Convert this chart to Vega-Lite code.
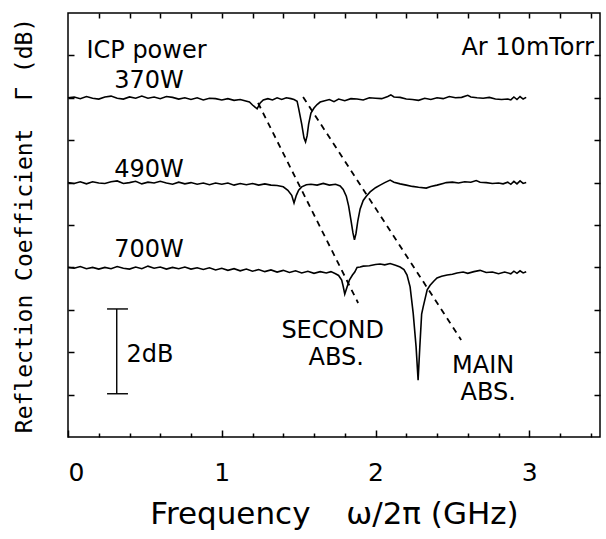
{
  "$schema": "https://vega.github.io/schema/vega-lite/v6.json",
  "autosize": "none",
  "width": 532,
  "height": 424,
  "padding": {"left": 68, "top": 13, "right": 6, "bottom": 102},
  "config": {
    "view": {"stroke": "black", "strokeWidth": 1.5},
    "axis": {"grid": false, "domain": false, "tickColor": "black", "tickWidth": 1.5, "labelColor": "black", "titleColor": "black", "labelFont": "DejaVu Sans", "titleFont": "DejaVu Sans", "titleFontWeight": "normal"},
    "text": {"font": "DejaVu Sans", "fontSize": 24, "color": "black", "baseline": "alphabetic"}
  },
  "resolve": {"axis": {"x": "independent", "y": "independent"}},
  "datasets": {
    "traces": [
      {"p":"370W","f":0.00,"g":-2.00},{"p":"370W","f":0.04,"g":-1.98},{"p":"370W","f":0.08,"g":-2.02},{"p":"370W","f":0.12,"g":-1.97},{"p":"370W","f":0.16,"g":-2.01},{"p":"370W","f":0.20,"g":-2.03},{"p":"370W","f":0.24,"g":-1.98},{"p":"370W","f":0.28,"g":-1.96},{"p":"370W","f":0.32,"g":-2.01},{"p":"370W","f":0.36,"g":-2.03},{"p":"370W","f":0.40,"g":-1.98},{"p":"370W","f":0.44,"g":-2.01},{"p":"370W","f":0.48,"g":-1.96},{"p":"370W","f":0.52,"g":-2.01},{"p":"370W","f":0.56,"g":-1.98},{"p":"370W","f":0.60,"g":-2.02},{"p":"370W","f":0.64,"g":-1.97},{"p":"370W","f":0.68,"g":-1.99},{"p":"370W","f":0.72,"g":-2.03},{"p":"370W","f":0.76,"g":-2.00},{"p":"370W","f":0.80,"g":-2.04},{"p":"370W","f":0.84,"g":-2.00},{"p":"370W","f":0.88,"g":-2.05},{"p":"370W","f":0.92,"g":-2.01},{"p":"370W","f":0.96,"g":-2.02},{"p":"370W","f":1.00,"g":-2.05},{"p":"370W","f":1.04,"g":-2.02},{"p":"370W","f":1.08,"g":-2.06},{"p":"370W","f":1.12,"g":-2.04},{"p":"370W","f":1.15,"g":-2.07},{"p":"370W","f":1.18,"g":-2.10},{"p":"370W","f":1.20,"g":-2.17},{"p":"370W","f":1.23,"g":-2.26},{"p":"370W","f":1.25,"g":-2.12},{"p":"370W","f":1.27,"g":-2.05},{"p":"370W","f":1.30,"g":-2.02},{"p":"370W","f":1.33,"g":-2.05},{"p":"370W","f":1.36,"g":-2.00},{"p":"370W","f":1.39,"g":-2.04},{"p":"370W","f":1.42,"g":-2.00},{"p":"370W","f":1.45,"g":-2.02},{"p":"370W","f":1.47,"g":-2.04},{"p":"370W","f":1.49,"g":-2.08},{"p":"370W","f":1.50,"g":-2.25},{"p":"370W","f":1.52,"g":-2.62},{"p":"370W","f":1.535,"g":-2.95},{"p":"370W","f":1.545,"g":-3.04},{"p":"370W","f":1.555,"g":-2.90},{"p":"370W","f":1.565,"g":-2.62},{"p":"370W","f":1.58,"g":-2.36},{"p":"370W","f":1.60,"g":-2.24},{"p":"370W","f":1.62,"g":-2.16},{"p":"370W","f":1.64,"g":-2.10},{"p":"370W","f":1.67,"g":-2.07},{"p":"370W","f":1.70,"g":-2.04},{"p":"370W","f":1.73,"g":-2.09},{"p":"370W","f":1.76,"g":-2.03},{"p":"370W","f":1.80,"g":-2.07},{"p":"370W","f":1.84,"g":-2.02},{"p":"370W","f":1.88,"g":-2.03},{"p":"370W","f":1.92,"g":-2.05},{"p":"370W","f":1.96,"g":-2.00},{"p":"370W","f":2.00,"g":-2.01},{"p":"370W","f":2.04,"g":-2.02},{"p":"370W","f":2.08,"g":-1.97},{"p":"370W","f":2.10,"g":-1.93},{"p":"370W","f":2.12,"g":-1.98},{"p":"370W","f":2.16,"g":-1.99},{"p":"370W","f":2.20,"g":-2.03},{"p":"370W","f":2.24,"g":-2.04},{"p":"370W","f":2.28,"g":-2.06},{"p":"370W","f":2.32,"g":-2.01},{"p":"370W","f":2.36,"g":-2.04},{"p":"370W","f":2.40,"g":-2.00},{"p":"370W","f":2.44,"g":-2.02},{"p":"370W","f":2.48,"g":-1.97},{"p":"370W","f":2.52,"g":-2.00},{"p":"370W","f":2.56,"g":-1.99},{"p":"370W","f":2.60,"g":-1.94},{"p":"370W","f":2.62,"g":-1.98},{"p":"370W","f":2.66,"g":-2.00},{"p":"370W","f":2.70,"g":-2.01},{"p":"370W","f":2.74,"g":-1.99},{"p":"370W","f":2.78,"g":-2.03},{"p":"370W","f":2.82,"g":-2.04},{"p":"370W","f":2.86,"g":-2.03},{"p":"370W","f":2.88,"g":-2.05},{"p":"370W","f":2.90,"g":-1.98},{"p":"370W","f":2.92,"g":-2.04},{"p":"370W","f":2.94,"g":-1.97},{"p":"370W","f":2.96,"g":-2.03},{"p":"370W","f":2.98,"g":-1.99},
      {"p":"490W","f":0.00,"g":-4.00},{"p":"490W","f":0.04,"g":-4.02},{"p":"490W","f":0.08,"g":-3.98},{"p":"490W","f":0.12,"g":-4.03},{"p":"490W","f":0.16,"g":-3.98},{"p":"490W","f":0.20,"g":-4.01},{"p":"490W","f":0.24,"g":-4.02},{"p":"490W","f":0.28,"g":-3.98},{"p":"490W","f":0.32,"g":-3.96},{"p":"490W","f":0.36,"g":-4.02},{"p":"490W","f":0.40,"g":-4.00},{"p":"490W","f":0.44,"g":-3.97},{"p":"490W","f":0.48,"g":-4.03},{"p":"490W","f":0.52,"g":-3.99},{"p":"490W","f":0.56,"g":-4.01},{"p":"490W","f":0.60,"g":-3.97},{"p":"490W","f":0.64,"g":-4.01},{"p":"490W","f":0.68,"g":-4.04},{"p":"490W","f":0.72,"g":-3.99},{"p":"490W","f":0.76,"g":-4.03},{"p":"490W","f":0.80,"g":-4.00},{"p":"490W","f":0.84,"g":-4.04},{"p":"490W","f":0.88,"g":-4.01},{"p":"490W","f":0.92,"g":-4.05},{"p":"490W","f":0.96,"g":-4.01},{"p":"490W","f":1.00,"g":-4.04},{"p":"490W","f":1.04,"g":-4.01},{"p":"490W","f":1.08,"g":-4.06},{"p":"490W","f":1.12,"g":-4.02},{"p":"490W","f":1.16,"g":-4.05},{"p":"490W","f":1.20,"g":-4.02},{"p":"490W","f":1.24,"g":-4.06},{"p":"490W","f":1.28,"g":-4.03},{"p":"490W","f":1.32,"g":-4.06},{"p":"490W","f":1.36,"g":-4.07},{"p":"490W","f":1.40,"g":-4.10},{"p":"490W","f":1.43,"g":-4.18},{"p":"490W","f":1.455,"g":-4.30},{"p":"490W","f":1.47,"g":-4.48},{"p":"490W","f":1.485,"g":-4.30},{"p":"490W","f":1.50,"g":-4.18},{"p":"490W","f":1.52,"g":-4.10},{"p":"490W","f":1.55,"g":-4.05},{"p":"490W","f":1.58,"g":-4.04},{"p":"490W","f":1.62,"g":-4.06},{"p":"490W","f":1.66,"g":-4.02},{"p":"490W","f":1.70,"g":-4.06},{"p":"490W","f":1.74,"g":-4.04},{"p":"490W","f":1.77,"g":-4.08},{"p":"490W","f":1.79,"g":-4.16},{"p":"490W","f":1.81,"g":-4.32},{"p":"490W","f":1.825,"g":-4.55},{"p":"490W","f":1.84,"g":-4.88},{"p":"490W","f":1.853,"g":-5.18},{"p":"490W","f":1.863,"g":-5.35},{"p":"490W","f":1.873,"g":-5.20},{"p":"490W","f":1.885,"g":-4.90},{"p":"490W","f":1.90,"g":-4.62},{"p":"490W","f":1.92,"g":-4.42},{"p":"490W","f":1.94,"g":-4.32},{"p":"490W","f":1.965,"g":-4.22},{"p":"490W","f":2.00,"g":-4.12},{"p":"490W","f":2.03,"g":-4.06},{"p":"490W","f":2.06,"g":-4.00},{"p":"490W","f":2.095,"g":-3.94},{"p":"490W","f":2.12,"g":-3.99},{"p":"490W","f":2.16,"g":-4.03},{"p":"490W","f":2.20,"g":-4.06},{"p":"490W","f":2.24,"g":-4.09},{"p":"490W","f":2.28,"g":-4.11},{"p":"490W","f":2.33,"g":-4.13},{"p":"490W","f":2.36,"g":-4.09},{"p":"490W","f":2.40,"g":-4.06},{"p":"490W","f":2.44,"g":-4.02},{"p":"490W","f":2.46,"g":-4.00},{"p":"490W","f":2.50,"g":-3.99},{"p":"490W","f":2.54,"g":-4.01},{"p":"490W","f":2.58,"g":-3.98},{"p":"490W","f":2.62,"g":-3.99},{"p":"490W","f":2.655,"g":-3.95},{"p":"490W","f":2.68,"g":-3.99},{"p":"490W","f":2.72,"g":-4.00},{"p":"490W","f":2.76,"g":-4.02},{"p":"490W","f":2.80,"g":-4.01},{"p":"490W","f":2.83,"g":-4.03},{"p":"490W","f":2.86,"g":-3.99},{"p":"490W","f":2.88,"g":-4.04},{"p":"490W","f":2.90,"g":-3.97},{"p":"490W","f":2.92,"g":-4.03},{"p":"490W","f":2.94,"g":-3.96},{"p":"490W","f":2.96,"g":-4.02},{"p":"490W","f":2.98,"g":-4.00},
      {"p":"700W","f":0.00,"g":-6.00},{"p":"700W","f":0.04,"g":-6.02},{"p":"700W","f":0.08,"g":-5.98},{"p":"700W","f":0.12,"g":-6.03},{"p":"700W","f":0.16,"g":-6.00},{"p":"700W","f":0.20,"g":-6.04},{"p":"700W","f":0.24,"g":-6.00},{"p":"700W","f":0.28,"g":-6.03},{"p":"700W","f":0.32,"g":-5.98},{"p":"700W","f":0.36,"g":-6.02},{"p":"700W","f":0.40,"g":-6.04},{"p":"700W","f":0.44,"g":-5.99},{"p":"700W","f":0.48,"g":-6.03},{"p":"700W","f":0.52,"g":-5.97},{"p":"700W","f":0.56,"g":-6.02},{"p":"700W","f":0.60,"g":-5.99},{"p":"700W","f":0.64,"g":-6.04},{"p":"700W","f":0.68,"g":-6.00},{"p":"700W","f":0.72,"g":-6.03},{"p":"700W","f":0.76,"g":-5.99},{"p":"700W","f":0.80,"g":-6.04},{"p":"700W","f":0.84,"g":-6.01},{"p":"700W","f":0.88,"g":-6.05},{"p":"700W","f":0.92,"g":-6.01},{"p":"700W","f":0.96,"g":-6.06},{"p":"700W","f":1.00,"g":-6.02},{"p":"700W","f":1.04,"g":-6.07},{"p":"700W","f":1.08,"g":-6.03},{"p":"700W","f":1.12,"g":-6.08},{"p":"700W","f":1.16,"g":-6.04},{"p":"700W","f":1.20,"g":-6.09},{"p":"700W","f":1.24,"g":-6.05},{"p":"700W","f":1.28,"g":-6.10},{"p":"700W","f":1.32,"g":-6.06},{"p":"700W","f":1.36,"g":-6.11},{"p":"700W","f":1.40,"g":-6.07},{"p":"700W","f":1.44,"g":-6.12},{"p":"700W","f":1.48,"g":-6.08},{"p":"700W","f":1.52,"g":-6.13},{"p":"700W","f":1.56,"g":-6.09},{"p":"700W","f":1.60,"g":-6.14},{"p":"700W","f":1.64,"g":-6.10},{"p":"700W","f":1.68,"g":-6.13},{"p":"700W","f":1.71,"g":-6.10},{"p":"700W","f":1.74,"g":-6.15},{"p":"700W","f":1.76,"g":-6.19},{"p":"700W","f":1.78,"g":-6.30},{"p":"700W","f":1.79,"g":-6.45},{"p":"700W","f":1.80,"g":-6.63},{"p":"700W","f":1.815,"g":-6.46},{"p":"700W","f":1.83,"g":-6.30},{"p":"700W","f":1.85,"g":-6.18},{"p":"700W","f":1.865,"g":-6.11},{"p":"700W","f":1.88,"g":-6.00},{"p":"700W","f":1.90,"g":-5.99},{"p":"700W","f":1.92,"g":-5.97},{"p":"700W","f":1.96,"g":-5.96},{"p":"700W","f":2.00,"g":-5.93},{"p":"700W","f":2.03,"g":-5.92},{"p":"700W","f":2.06,"g":-5.94},{"p":"700W","f":2.095,"g":-5.91},{"p":"700W","f":2.13,"g":-5.95},{"p":"700W","f":2.16,"g":-5.99},{"p":"700W","f":2.185,"g":-6.05},{"p":"700W","f":2.205,"g":-6.18},{"p":"700W","f":2.225,"g":-6.46},{"p":"700W","f":2.245,"g":-7.08},{"p":"700W","f":2.264,"g":-7.88},{"p":"700W","f":2.277,"g":-8.66},{"p":"700W","f":2.288,"g":-7.88},{"p":"700W","f":2.30,"g":-7.10},{"p":"700W","f":2.31,"g":-6.93},{"p":"700W","f":2.336,"g":-6.53},{"p":"700W","f":2.355,"g":-6.42},{"p":"700W","f":2.38,"g":-6.32},{"p":"700W","f":2.40,"g":-6.25},{"p":"700W","f":2.43,"g":-6.21},{"p":"700W","f":2.466,"g":-6.18},{"p":"700W","f":2.50,"g":-6.16},{"p":"700W","f":2.53,"g":-6.13},{"p":"700W","f":2.57,"g":-6.11},{"p":"700W","f":2.60,"g":-6.14},{"p":"700W","f":2.64,"g":-6.10},{"p":"700W","f":2.68,"g":-6.07},{"p":"700W","f":2.72,"g":-6.12},{"p":"700W","f":2.76,"g":-6.11},{"p":"700W","f":2.80,"g":-6.15},{"p":"700W","f":2.84,"g":-6.11},{"p":"700W","f":2.88,"g":-6.15},{"p":"700W","f":2.90,"g":-6.09},{"p":"700W","f":2.92,"g":-6.14},{"p":"700W","f":2.94,"g":-6.08},{"p":"700W","f":2.96,"g":-6.13},{"p":"700W","f":2.98,"g":-6.10}
    ],
    "dash": [
      {"name":"second","f":1.236,"g":-2.12,"f2":1.887,"g2":-6.84},
      {"name":"main","f":1.529,"g":-1.98,"f2":2.557,"g2":-7.71}
    ],
    "bar": [
      {"part":"stem","f":0.317,"g":-6.98,"f2":0.317,"g2":-8.98},
      {"part":"top","f":0.254,"g":-6.98,"f2":0.390,"g2":-6.98},
      {"part":"bottom","f":0.254,"g":-8.98,"f2":0.390,"g2":-8.98}
    ],
    "labLeft": [
      {"t":"ICP power","f":0.12,"g":-1.06},
      {"t":"2dB","f":0.38,"g":-8.23}
    ],
    "labCenter": [
      {"t":"370W","f":0.527,"g":-1.77},
      {"t":"490W","f":0.527,"g":-3.87},
      {"t":"700W","f":0.527,"g":-5.76},
      {"t":"SECOND","f":1.721,"g":-7.67},
      {"t":"ABS.","f":1.744,"g":-8.30},
      {"t":"MAIN","f":2.700,"g":-8.49},
      {"t":"ABS.","f":2.733,"g":-9.13}
    ],
    "labRight": [
      {"t":"Ar 10mTorr","f":3.42,"g":-0.99}
    ]
  },
  "layer": [
    {
      "data": {"name": "traces"},
      "mark": {"type": "line", "color": "black", "strokeWidth": 1.6},
      "encoding": {
        "x": {"field": "f", "type": "quantitative", "scale": {"domain": [0, 3.46], "nice": false, "zero": false},
          "axis": {"orient": "bottom", "offset": -7, "values": [0, 1, 2, 3], "tickSize": 7, "labelPadding": 23, "labelFontSize": 25, "title": "Frequency\u00a0\u00a0\u00a0\u2009ω/2π (GHz)", "titleFontSize": 31, "titlePadding": 14}},
        "y": {"field": "g", "type": "quantitative", "scale": {"domain": [-10, 0], "nice": false, "zero": false},
          "axis": {"orient": "left", "offset": -6, "values": [-9, -8, -7, -6, -5, -4, -3, -2, -1], "tickSize": 6, "labels": false, "title": "Reflection Coefficient\u00a0\u00a0Γ (dB)", "titleFont": "DejaVu Sans Mono", "titleFontSize": 23, "titlePadding": 31}},
        "detail": {"field": "p"}
      }
    },
    {
      "data": {"name": "dash"},
      "mark": {"type": "rule", "color": "black", "strokeWidth": 1.8, "strokeDash": [6, 5]},
      "encoding": {
        "x": {"field": "f", "type": "quantitative", "axis": {"orient": "bottom", "offset": -4, "values": [0.2, 0.4, 0.6, 0.8, 1.2, 1.4, 1.6, 1.8, 2.2, 2.4, 2.6, 2.8, 3.2, 3.4], "tickSize": 4, "labels": false, "title": null}},
        "x2": {"field": "f2"},
        "y": {"field": "g", "type": "quantitative", "axis": {"orient": "right", "values": [-9, -8, -7, -6, -5, -4, -3, -2, -1], "tickSize": -6, "labels": false, "title": null}},
        "y2": {"field": "g2"}
      }
    },
    {
      "data": {"name": "bar"},
      "mark": {"type": "rule", "color": "black", "strokeWidth": 1.4},
      "encoding": {
        "x": {"field": "f", "type": "quantitative", "axis": {"orient": "top", "values": [0.2, 0.4, 0.6, 0.8, 1, 1.2, 1.4, 1.6, 1.8, 2, 2.2, 2.4, 2.6, 2.8, 3, 3.2, 3.4], "tickSize": -5, "labels": false, "title": null}},
        "x2": {"field": "f2"},
        "y": {"field": "g", "type": "quantitative", "axis": null},
        "y2": {"field": "g2"}
      }
    },
    {
      "data": {"name": "labLeft"},
      "mark": {"type": "text", "align": "left"},
      "encoding": {
        "x": {"field": "f", "type": "quantitative", "axis": null},
        "y": {"field": "g", "type": "quantitative", "axis": null},
        "text": {"field": "t"}
      }
    },
    {
      "data": {"name": "labCenter"},
      "mark": {"type": "text", "align": "center"},
      "encoding": {
        "x": {"field": "f", "type": "quantitative", "axis": null},
        "y": {"field": "g", "type": "quantitative", "axis": null},
        "text": {"field": "t"}
      }
    },
    {
      "data": {"name": "labRight"},
      "mark": {"type": "text", "align": "right"},
      "encoding": {
        "x": {"field": "f", "type": "quantitative", "axis": null},
        "y": {"field": "g", "type": "quantitative", "axis": null},
        "text": {"field": "t"}
      }
    }
  ]
}
